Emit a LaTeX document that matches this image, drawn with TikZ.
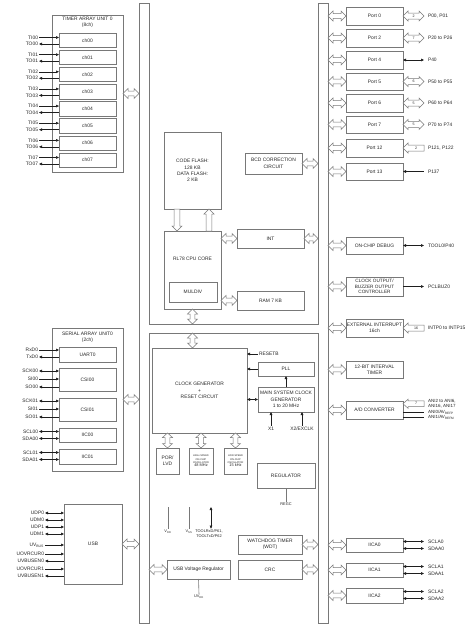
\documentclass[tikz,border=0pt]{standalone}
\usepackage{fontspec}
\setmainfont{Liberation Sans}
\usetikzlibrary{arrows.meta,calc}
\definecolor{lc}{RGB}{120,120,120}
\definecolor{tc}{RGB}{40,40,40}
\definecolor{sc}{RGB}{30,30,30}
\newcommand\fs{\fontsize{4.9}{6.4}\selectfont}
\newcommand\fsm{\fontsize{3.9}{4.8}\selectfont}
\newcommand\fsa{\fontsize{4.5}{5.5}\selectfont}
\newcommand\fst{\fontsize{2.5}{3.3}\selectfont}
\newcommand\fnum{\fontsize{3.6}{4}\selectfont}
% box: [opts]{name}{x1}{y1}{x2}{y2}{text}
\newcommand\bx[7][]{\node[box,anchor=north west,minimum width={(#5-#3)*1pt},minimum height={(#6-#4)*1pt},#1] (#2) at (#3,#4) {#7};}
% hollow horizontal double arrow: left, right, head length, head half width, shaft half width
\newcommand\HD[5]{\draw[blk] let \p1=#1, \p2=#2 in (\x1,\y1) -- ({\x1+#3pt},{\y1+#4pt}) -- ({\x1+#3pt},{\y1+#5pt}) -- ({\x2-#3pt},{\y1+#5pt}) -- ({\x2-#3pt},{\y1+#4pt}) -- (\x2,\y1) -- ({\x2-#3pt},{\y1-#4pt}) -- ({\x2-#3pt},{\y1-#5pt}) -- ({\x1+#3pt},{\y1-#5pt}) -- ({\x1+#3pt},{\y1-#4pt}) -- cycle;}
% hollow vertical double arrow: top, bottom
\newcommand\VD[5]{\draw[blk] let \p1=#1, \p2=#2 in (\x1,\y1) -- ({\x1+#4pt},{\y1-#3pt}) -- ({\x1+#5pt},{\y1-#3pt}) -- ({\x1+#5pt},{\y2+#3pt}) -- ({\x1+#4pt},{\y2+#3pt}) -- (\x1,\y2) -- ({\x1-#4pt},{\y2+#3pt}) -- ({\x1-#5pt},{\y2+#3pt}) -- ({\x1-#5pt},{\y1-#3pt}) -- ({\x1-#4pt},{\y1-#3pt}) -- cycle;}
% hollow single arrow pointing left: tip (left), tail (right)
\newcommand\HL[5]{\draw[blk] let \p1=#1, \p2=#2 in (\x1,\y1) -- ({\x1+#3pt},{\y1+#4pt}) -- ({\x1+#3pt},{\y1+#5pt}) -- (\x2,{\y1+#5pt}) -- (\x2,{\y1-#5pt}) -- ({\x1+#3pt},{\y1-#5pt}) -- ({\x1+#3pt},{\y1-#4pt}) -- cycle;}
% hollow single arrow pointing down: tail (top), tip (bottom)
\newcommand\VDn[5]{\draw[blk] let \p1=#1, \p2=#2 in (\x1,\y2) -- ({\x1-#4pt},{\y2+#3pt}) -- ({\x1-#5pt},{\y2+#3pt}) -- ({\x1-#5pt},\y1) -- ({\x1+#5pt},\y1) -- ({\x1+#5pt},{\y2+#3pt}) -- ({\x1+#4pt},{\y2+#3pt}) -- cycle;}
% hollow single arrow pointing up: tip (top), tail (bottom)
\newcommand\VUp[5]{\draw[blk] let \p1=#1, \p2=#2 in (\x1,\y1) -- ({\x1+#4pt},{\y1-#3pt}) -- ({\x1+#5pt},{\y1-#3pt}) -- ({\x1+#5pt},\y2) -- ({\x1-#5pt},\y2) -- ({\x1-#5pt},{\y1-#3pt}) -- ({\x1-#4pt},{\y1-#3pt}) -- cycle;}
\begin{document}
\begin{tikzpicture}[x=1pt,y=-1pt,
 ln/.style={draw=lc,line width=0.6pt},
 box/.style={ln,inner sep=0pt,outer sep=0pt,align=center,font=\fs,text=tc},
 lbl/.style={inner ysep=0pt,inner xsep=1pt,outer sep=0pt,font=\fs,text=tc},
 rl/.style={inner ysep=0pt,inner xsep=4pt,outer sep=0pt,font=\fs,text=tc,anchor=west},
 sig/.style={draw=sc,line width=0.5pt},
 ai/.style={-{Triangle[length=3pt,width=2.6pt]}},
 ao/.style={{Triangle[length=3pt,width=2.6pt]}-},
 ab/.style={{Triangle[length=3pt,width=2.6pt]}-{Triangle[length=3pt,width=2.6pt]}},
 sg/.code={\edef\tmp{a#1}\expandafter\pgfkeysalso\expandafter{\tmp}},
 blk/.style={draw=lc,line width=0.5pt,fill=white},
 num/.style={font=\fnum,inner sep=0pt,text=tc}]
\useasboundingbox (0,0) rectangle (474,629);
\fill[white] (0,0) rectangle (474,629);

% ---------- buses ----------
\draw[ln] (139,3) -- (149,3) -- (149,324) -- (318,324) -- (318,3) -- (328,3) -- (328,623) -- (318,623) -- (318,333) -- (149,333) -- (149,623) -- (139,623) -- cycle;
\coordinate (lbusW) at (139,0); \coordinate (lbusE) at (149,0);
\coordinate (rbusW) at (318,0); \coordinate (rbusE) at (328,0);
\coordinate (hbusT) at (0,324); \coordinate (hbusB) at (0,333);

% ---------- timer array unit ----------
\bx{tau}{52}{15}{123}{172}{}
\node[lbl,align=center] (taut) at (87.5,22.5) {TIMER ARRAY UNIT 0\\(8ch)};
\foreach \k in {0,...,7} {
  \pgfmathsetmacro\t{33+17.14*\k}
  \bx{ch\k}{59}{\t}{116}{\t+14.5}{ch0\k}
  \node[lbl,anchor=east] (ti\k) at (39,\t+4.5) {TI0\k};
  \node[lbl,anchor=east] (to\k) at (39,\t+11) {TO0\k};
  \draw[sig,ai] (ti\k.east) -- (ti\k.east -| ch\k.west);
  \draw[sig,ao] (to\k.east) -- (to\k.east -| ch\k.west);
}
\HD{(tau.east)}{(lbusW |- tau.east)}{5}{5}{2.3}

% ---------- serial array unit ----------
\bx{sau}{52}{328}{123}{471}{}
\node[lbl,align=center] (saut) at (87.5,337) {SERIAL ARRAY UNIT0\\(2ch)};
\bx{uart}{59}{347}{116}{362}{UART0}
\bx{csia}{59}{368}{116}{391}{CSI00}
\bx{csib}{59}{398}{116}{421}{CSI01}
\bx{iica}{59}{428}{116}{442}{IIC00}
\bx{iicb}{59}{449}{116}{464}{IIC01}
\foreach \n/\y/\d/\b [count=\i] in {RxD0/350/i/uart, TxD0/357/o/uart, SCK00/371/b/csia, SI00/379/i/csia, SO00/387/o/csia, SCK01/401/b/csib, SI01/409/i/csib, SO01/417/o/csib, SCL00/431.5/b/iica, SDA00/438.5/b/iica, SCL01/452.5/b/iicb, SDA01/459.5/b/iicb} {
  \node[lbl,anchor=east] (sl\i) at (39,\y) {\n};
  \draw[sig,sg=\d] (sl\i.east) -- (sl\i.east -| \b.west);
}
\HD{(sau.east)}{(lbusW |- sau.east)}{5}{5}{2.3}

% ---------- USB ----------
\bx{usb}{64}{504}{122}{584}{USB}
\foreach \n/\y/\d [count=\i] in {UDP0/513/b, UDM0/520/b, UDP1/527/b, UDM1/534/b, {UV\textsubscript{BUS}}/545/i, UOVRCUR0/554/i, UVBUSEN0/561/o, UOVRCUR1/569/i, UVBUSEN1/576/o} {
  \node[lbl,anchor=east] (ul\i) at (45,\y) {\n};
  \draw[sig,sg=\d] (ul\i.east) -- (ul\i.east -| usb.west);
}
\HD{(usb.east)}{(lbusW |- usb.east)}{5}{5}{2.3}

% ---------- CPU area ----------
\bx{flash}{164}{132}{221}{209}{CODE FLASH:\\128 KB\\DATA FLASH:\\2 KB}
\bx{cpu}{164}{231}{221}{309}{}
\node[lbl] (cpul) at (192.5,259) {RL78 CPU CORE};
\bx{muldiv}{169}{282}{217}{302}{MULDIV}
\bx{int}{237}{229}{304}{248}{INT}
\bx{ram}{237}{291}{304}{310}{RAM 7 KB}
\bx{bcd}{245}{153}{302}{174}{BCD CORRECTION\\CIRCUIT}
\coordinate (fx1) at (177,0); \coordinate (fx2) at (209,0);
\VDn{(flash.south -| fx1)}{(cpu.north -| fx1)}{5}{5}{2.8}
\VUp{(flash.south -| fx2)}{(cpu.north -| fx2)}{5}{5}{2.8}
\HD{(cpu.east |- int.west)}{(int.west)}{5}{5}{2.3}
\HD{(int.east)}{(rbusW |- int.east)}{5}{5}{2.3}
\HD{(cpu.east |- ram.west)}{(ram.west)}{5}{5}{2.3}
\HD{(bcd.east)}{(rbusW |- bcd.east)}{5}{5}{2.3}
\VD{(cpu.south)}{(cpu.south |- hbusT)}{5}{5}{2.3}

% ---------- clock / reset area ----------
\bx{cg}{152}{348}{247}{433}{CLOCK GENERATOR\\+\\RESET CIRCUIT}
\VD{(cpu.south |- hbusB)}{(cpu.south |- cg.north)}{5}{5}{2.3}
\node[lbl,anchor=west] (rst) at (258,354) {RESETB};
\draw[sig,ai] (rst.west) -- (rst.west -| cg.east);
\bx{pll}{258}{362}{314}{376}{PLL}
\bx{mscg}{258}{387}{314}{412}{MAIN SYSTEM CLOCK\\GENERATOR\\1 to 20 MHz}
\draw[sig,ai] (pll.west) -- (pll.west -| cg.east);
\draw[sig,ab] (mscg.west) -- (mscg.west -| cg.east);
\draw[sig,ai] (mscg.north) -- (pll.south);
\node[lbl,inner ysep=1.5pt] (x1) at (271,429) {X1};
\node[lbl,inner ysep=1.5pt] (x2) at (302,429) {X2/EXCLK};
\draw[sig,ai] (x1.north) -- (x1.north |- mscg.south);
\draw[sig,ai] (x2.north) -- (x2.north |- mscg.south);
\bx{por}{156}{448}{179}{474}{POR/\\LVD}
\bx[font=\fst]{hoco}{189}{448}{213}{474}{HIGH-SPEED\\ON-CHIP\\OSCILLATOR\\{\fsm 48 MHz}}
\bx[font=\fst]{loco}{224}{448}{247}{474}{LOW-SPEED\\ON-CHIP\\OSCILLATOR\\{\fsm 15 kHz}}
\VD{(por.north |- cg.south)}{(por.north)}{4.5}{5}{2.3}
\VD{(hoco.north |- cg.south)}{(hoco.north)}{4.5}{5}{2.3}
\VD{(loco.north |- cg.south)}{(loco.north)}{4.5}{5}{2.3}
\bx{reg}{257}{463}{315}{488}{REGULATOR}
\node[lbl,font=\fsm,inner ysep=1pt] (regc) at (286,504) {REGC};
\draw[ln] (reg.south) -- (regc.north);

\node[lbl,font=\fsm,inner ysep=1.5pt] (vdd) at (168,532) {V\textsubscript{DD}};
\coordinate (vddt) at (168,507);
\draw[ln] (vdd.north) -- (vddt);
\node[lbl,font=\fsm,inner ysep=1.5pt] (vss) at (189,532) {V\textsubscript{SS}};
\coordinate (vsst) at (189,507);
\draw[ln] (vss.north) -- (vsst);
\node[lbl,font=\fsm,align=center,inner ysep=1pt] (tool) at (209,533.5) {TOOLRxD/P61,\\TOOLTxD/P62};
\coordinate (toolt) at (211,507);
\draw[sig,ab] (toolt |- tool.north) -- (toolt);

\bx{wdt}{238}{535}{302}{554}{WATCHDOG TIMER\\(WDT)}
\bx{crc}{238}{560}{302}{579}{CRC}
\bx{usbvr}{167}{560}{230}{579}{USB Voltage Regulator}
\HD{(wdt.east)}{(rbusW |- wdt.east)}{5}{5}{2.3}
\HD{(crc.east)}{(rbusW |- crc.east)}{5}{5}{2.3}
\HD{(lbusE |- usbvr.west)}{(usbvr.west)}{5}{5}{2.3}
\node[lbl,font=\fsm,inner ysep=1pt] (uvdd) at (199,597) {UV\textsubscript{DD}};
\draw[ln] (usbvr.south) -- (uvdd.north);

% ---------- right side ----------
\bx{p0}{346}{7}{403}{25}{Port 0}
\bx{p2}{346}{29}{403}{47}{Port 2}
\bx{p4}{346}{51}{403}{69}{Port 4}
\bx{p5}{346}{73}{403}{90}{Port 5}
\bx{p6}{346}{94}{403}{112}{Port 6}
\bx{p7}{346}{116}{403}{133}{Port 7}
\bx{p12}{346}{139}{403}{157}{Port 12}
\bx{p13}{346}{163}{403}{180}{Port 13}
\bx{ocd}{346}{237}{403}{254}{ON-CHIP DEBUG}
\bx[font=\fontsize{4.7}{5.8}\selectfont]{clk}{346}{277}{403}{296}{CLOCK OUTPUT/\\BUZZER OUTPUT\\CONTROLLER}
\bx{eint}{346}{319}{403}{337}{EXTERNAL INTERRUPT\\16ch}
\bx{itmr}{346}{361}{403}{378}{12-BIT INTERVAL\\TIMER}
\bx{adc}{346}{401}{403}{419}{A/D CONVERTER}
\bx{iic0}{346}{538}{403}{552}{IICA0}
\bx{iic1}{346}{563}{403}{577}{IICA1}
\bx{iic2}{346}{588}{403}{603}{IICA2}
\foreach \nm in {p0,p2,p4,p5,p6,p7,p12,p13,ocd,clk,eint,itmr,adc,iic0,iic1,iic2}
  \HD{(rbusE |- \nm.west)}{(\nm.west)}{5}{5}{2.3};

\node[rl] (p0r) at (424,16) {P00, P01};
\node[rl] (p2r) at (424,38) {P20 to P26};
\node[rl] (p4r) at (424,60) {P40};
\node[rl] (p5r) at (424,81.5) {P50 to P55};
\node[rl] (p6r) at (424,103) {P60 to P64};
\node[rl] (p7r) at (424,124.5) {P70 to P74};
\node[rl] (p12r) at (424,148) {P121, P122};
\node[rl] (p13r) at (424,171.5) {P137};
\foreach \nm/\v in {p0/2, p2/7, p5/6, p6/5, p7/5} {
  \HD{(\nm.east)}{(\nm r.west)}{5}{5}{3}
  \node[num] at ($(\nm.east)!0.5!(\nm r.west)$) {\v};
}
\draw[sig,ab] (p4.east) -- (p4r.west);
\HL{(p12.east)}{(p12r.west)}{5}{5}{3}
\node[num] at ($(p12.east)!0.5!(p12r.west)+(2.5pt,0pt)$) {2};
\draw[sig,ao] (p13.east) -- (p13r.west);

\node[rl] (ocdr) at (424,245.5) {TOOL0/P40};
\draw[sig,ab] (ocd.east) -- (ocdr.west);
\node[rl] (clkr) at (424,286.5) {PCLBUZ0};
\draw[sig,ai] (clk.east) -- (clkr.west);
\node[rl] (eintr) at (424,328) {INTP0 to INTP15};
\HL{(eint.east)}{(eintr.west)}{5}{5}{3}
\node[num] at ($(eint.east)!0.5!(eintr.west)+(2.5pt,0pt)$) {16};

\node[rl,font=\fsa] (ad1) at (424,401) {ANI2 to ANI6,};
\node[rl,font=\fsa] (ad2) at (424,406.5) {ANI16, ANI17};
\node[rl,font=\fsa] (ad3) at (424,412) {ANI0/AV\textsubscript{REFP}};
\node[rl,font=\fsa] (ad4) at (424,417.5) {ANI1/AV\textsubscript{REFM}};
\coordinate (adm) at ($(ad1.west)!0.5!(ad2.west)$);
\HL{(adc.east |- adm)}{(adm)}{5}{4.5}{2.8}
\node[num] at ($(adc.east |- adm)!0.5!(adm)+(2.5pt,0pt)$) {7};
\draw[sig] (adc.east |- ad3.west) -- (ad3.west);
\draw[sig] (adc.east |- ad4.west) -- (ad4.west);

\foreach \nm/\y/\k in {iic0/538/0, iic1/563/1, iic2/588/2} {
  \node[rl] (scl\k) at (424,\y+3.5) {SCLA\k};
  \node[rl] (sda\k) at (424,\y+10.5) {SDAA\k};
  \draw[sig,ab] (\nm.east |- scl\k.west) -- (scl\k.west);
  \draw[sig,ab] (\nm.east |- sda\k.west) -- (sda\k.west);
}
\end{tikzpicture}
\end{document}
